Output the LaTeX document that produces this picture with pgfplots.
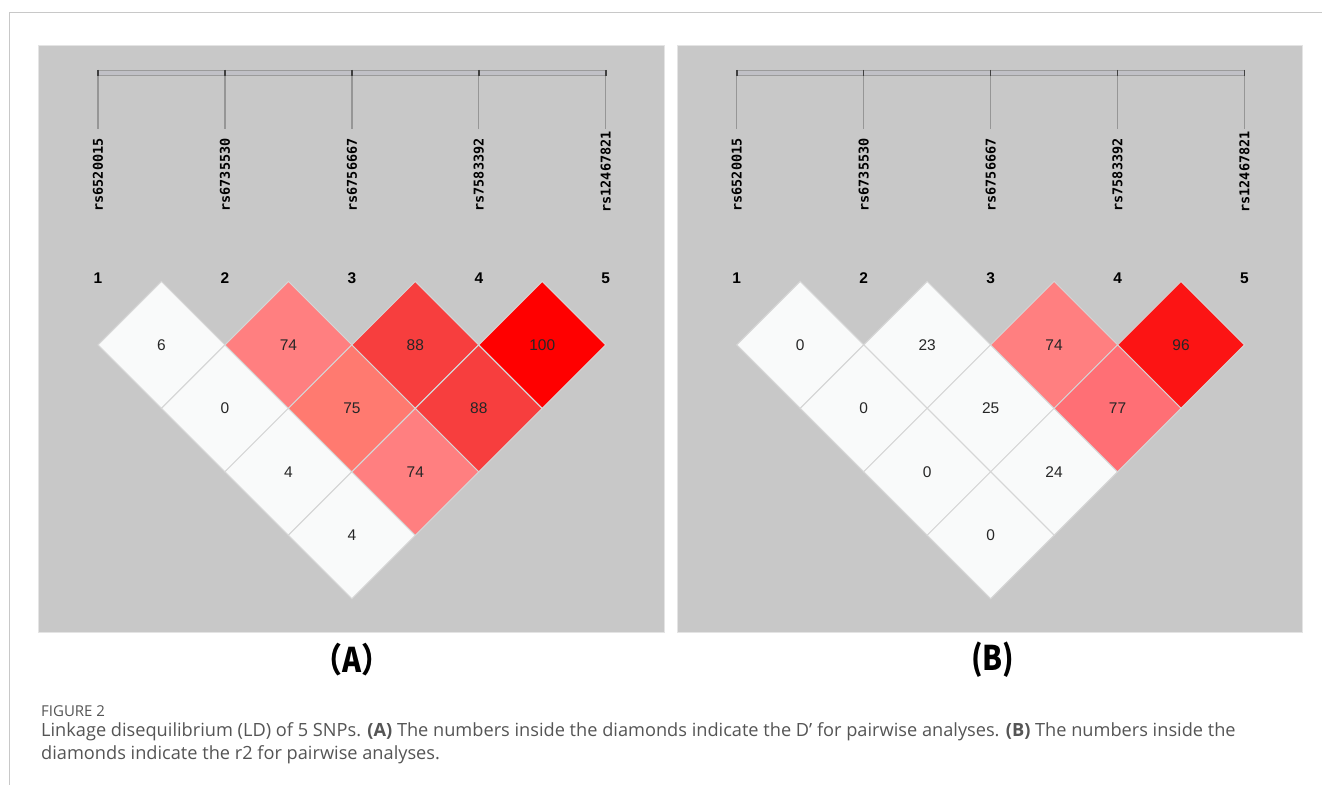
\documentclass[border=0pt]{standalone}
\usepackage{pgfplots}
\pgfplotsset{compat=1.18}
\usepackage{fontspec}
\setmainfont{Open Sans}
\newfontfamily\monof{DejaVu Sans Mono}
\newfontfamily\dialog{Liberation Sans}
\newfontfamily\cjk{Noto Sans CJK SC}
\definecolor{panelgray}{RGB}{200,200,200}
\definecolor{panelline}{RGB}{228,228,228}
\definecolor{cwhite}{RGB}{249,250,250}
\definecolor{c74}{RGB}{255,127,128}
\definecolor{c75}{RGB}{255,122,112}
\definecolor{c88}{RGB}{247,62,62}
\definecolor{c100}{RGB}{255,0,0}
\definecolor{c96}{RGB}{252,20,20}
\definecolor{c77}{RGB}{255,111,117}
\definecolor{gridc}{RGB}{214,214,214}
\definecolor{barlight}{RGB}{192,192,198}
\definecolor{barline}{RGB}{155,155,155}
\definecolor{tickc}{RGB}{150,150,150}
\definecolor{captext}{RGB}{85,85,85}
\definecolor{framec}{RGB}{200,200,200}

\pgfplotstableread{
x y label
161.5 345 6
288.5 345 74
415.5 345 88
542.5 345 100
225 408.5 0
352 408.5 75
479 408.5 88
288.5 472 4
415.5 472 74
352 535.5 4
800.5 345 0
927.5 345 23
1054.5 345 74
1181.5 345 96
864 408.5 0
991 408.5 25
1118 408.5 77
927.5 472 0
1054.5 472 24
991 535.5 0
}\cells

\pgfplotstableread{
x y label
98 175 rs6520015
225 175 rs6735530
352 175 rs6756667
479 175 rs7583392
606 172 rs12467821
737 175 rs6520015
864 175 rs6735530
991 175 rs6756667
1118 175 rs7583392
1245 172 rs12467821
}\snps

\pgfplotstableread{
x y label
98 278 1
225 278 2
352 278 3
479 278 4
606 278 5
737 278 1
864 278 2
991 278 3
1118 278 4
1245 278 5
}\idx

\begin{document}
\begin{tikzpicture}
\begin{axis}[
  x=1pt, y=1pt, y dir=reverse,
  xmin=0, xmax=1322, ymin=0, ymax=785,
  hide axis, clip=false, scale only axis,
  unbounded coords=jump,
]
% background and frame
\fill[white] (axis cs:0,0) rectangle (axis cs:1322,785);
\draw[framec, line width=1pt] (axis cs:9.5,785) -- (axis cs:9.5,12.5) -- (axis cs:1322,12.5);
% panels
\filldraw[fill=panelgray, draw=panelline, line width=1pt] (axis cs:38.5,45.5) rectangle (axis cs:665,633);
\filldraw[fill=panelgray, draw=panelline, line width=1pt] (axis cs:678,45.5) rectangle (axis cs:1303,633);

% top bars
\addplot[fill=barlight, draw=barline, line width=1pt] coordinates {(98,70.5) (606,70.5) (606,75.5) (98,75.5) (98,70.5)};
\addplot[fill=barlight, draw=barline, line width=1pt] coordinates {(737,70.5) (1245,70.5) (1245,75.5) (737,75.5) (737,70.5)};
% ticks
\addplot[tickc, line width=1.3pt] coordinates {
 (98,70) (98,129) (98,nan)
 (225,70) (225,129) (225,nan)
 (352,70) (352,129) (352,nan)
 (479,70) (479,129) (479,nan)
 (606,70) (606,129) (606,nan)
 (737,70) (737,129) (737,nan)
 (864,70) (864,129) (864,nan)
 (991,70) (991,129) (991,nan)
 (1118,70) (1118,129) (1118,nan)
 (1245,70) (1245,129)};
\addplot[black!75, line width=1.6pt] coordinates {
 (98,70) (98,76) (98,nan)
 (225,70) (225,76) (225,nan)
 (352,70) (352,76) (352,nan)
 (479,70) (479,76) (479,nan)
 (606,70) (606,76) (606,nan)
 (737,70) (737,76) (737,nan)
 (864,70) (864,76) (864,nan)
 (991,70) (991,76) (991,nan)
 (1118,70) (1118,76) (1118,nan)
 (1245,70) (1245,76)};

% diamonds
\pgfplotsset{dia/.style={only marks, mark=square*, mark size=44.9pt,
  mark options={rotate=45, fill=#1, draw=gridc, line width=1pt}}}
\addplot[dia=cwhite] coordinates {(161.5,345) (225,408.5) (288.5,472) (352,535.5)
  (800.5,345) (927.5,345) (864,408.5) (991,408.5) (927.5,472) (1054.5,472) (991,535.5)};
\addplot[dia=c74] coordinates {(288.5,345) (415.5,472) (1054.5,345)};
\addplot[dia=c75] coordinates {(352,408.5)};
\addplot[dia=c88] coordinates {(415.5,345) (479,408.5)};
\addplot[dia=c100] coordinates {(542.5,345)};
\addplot[dia=c96] coordinates {(1181.5,345)};
\addplot[dia=c77] coordinates {(1118,408.5)};

% cell values
\addplot[only marks, mark=none, point meta=explicit symbolic, nodes near coords,
  nodes near coords style={anchor=center, text=black!85, font=\dialog\fontsize{15.5}{15.5}\selectfont}]
  table[meta=label] {\cells};
% SNP names
\addplot[only marks, mark=none, point meta=explicit symbolic, nodes near coords,
  nodes near coords style={anchor=center, rotate=90, text=black, font=\monof\bfseries\fontsize{13.5}{13.5}\selectfont}]
  table[meta=label] {\snps};
% indices
\addplot[only marks, mark=none, point meta=explicit symbolic, nodes near coords,
  nodes near coords style={anchor=center, text=black, font=\dialog\bfseries\fontsize{15.5}{15.5}\selectfont}]
  table[meta=label] {\idx};

% panel letters
\node[anchor=center, xscale=0.85] at (axis cs:352,660) {\cjk\bfseries\fontsize{34}{34}\selectfont （A）};
\node[anchor=center, xscale=0.85] at (axis cs:993,660) {\cjk\bfseries\fontsize{34}{34}\selectfont (B)};

% caption
\node[anchor=base west, inner sep=0pt, text=captext] at (axis cs:41,717) {\fontsize{15}{15}\selectfont FIGURE 2};
\node[anchor=base west, inner sep=0pt, text=captext] at (axis cs:41,737) {\fontsize{18.2}{18}\selectfont Linkage disequilibrium (LD) of 5 SNPs. \textbf{(A)} The numbers inside the diamonds indicate the D’ for pairwise analyses. \textbf{(B)} The numbers inside the};
\node[anchor=base west, inner sep=0pt, text=captext] at (axis cs:41,760) {\fontsize{18.2}{18}\selectfont diamonds indicate the r2 for pairwise analyses.};
\end{axis}
\end{tikzpicture}
\end{document}
